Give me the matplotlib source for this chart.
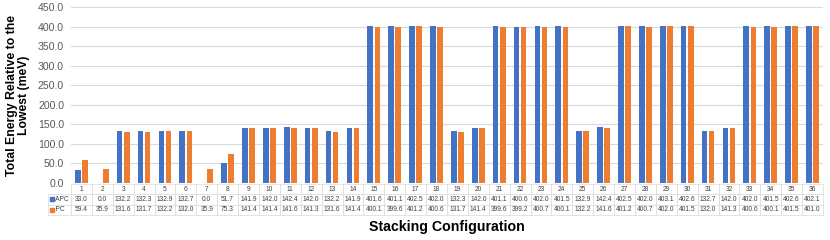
import matplotlib.pyplot as plt
import numpy as np

plt.rcParams['font.family'] = ['Liberation Sans', 'DejaVu Sans']

configs = [str(i) for i in range(1, 37)]
apc = [33.0, 0.0, 132.2, 132.3, 132.9, 132.7, 0.0, 51.7, 141.9, 142.0,
       142.4, 142.0, 132.2, 141.9, 401.6, 401.1, 402.5, 402.0, 132.3, 142.0,
       401.1, 400.6, 402.0, 401.5, 132.9, 142.4, 402.5, 402.0, 403.1, 402.6,
       132.7, 142.0, 402.0, 401.5, 402.6, 402.1]
pc = [59.4, 35.9, 131.6, 131.7, 132.2, 132.0, 35.9, 75.3, 141.4, 141.4,
      141.6, 141.3, 131.6, 141.4, 400.1, 399.6, 401.2, 400.6, 131.7, 141.4,
      399.6, 399.2, 400.7, 400.1, 132.2, 141.6, 401.2, 400.7, 402.0, 401.5,
      132.0, 141.3, 400.6, 400.1, 401.5, 401.0]
series = ["APC", "PC"]
colors = ["#4472C4", "#ED7D31"]

fig = plt.figure(figsize=(8.3, 2.4), dpi=100)
ax = fig.add_axes([0.0855, 0.2375, 0.906, 0.732])

x = np.arange(len(configs))
w = 0.27
ax.bar(x - 0.17, apc, w, color=colors[0], zorder=3)
ax.bar(x + 0.17, pc, w, color=colors[1], zorder=3)

ax.set_xlim(-0.5, len(configs) - 0.5)
ax.set_ylim(0, 450)
ax.set_yticks(np.arange(0, 451, 50))
ax.set_yticklabels([f"{v:.1f}" for v in np.arange(0, 451, 50)],
                   fontsize=7.6, color="#595959")
ax.yaxis.grid(True, color="#D9D9D9", lw=0.8, zorder=0)
ax.set_xticks([])
ax.tick_params(axis="y", length=0, pad=5)
for s in ["top", "right", "left", "bottom"]:
    ax.spines[s].set_visible(False)

ax.set_ylabel("Total Energy Relative to the\nLowest (meV)", fontsize=8.8,
              fontweight="bold", labelpad=6, linespacing=1.0)

# data table underneath
cell_text = [["    " + series[0]] + [f"{v:.1f}" for v in apc],
             ["    " + series[1]] + [f"{v:.1f}" for v in pc]]
col_labels = [""] + configs
tbl = ax.table(cellText=cell_text, colLabels=col_labels,
               bbox=[-0.0306, -0.181, 1.0306, 0.175], cellLoc="center")
tbl.auto_set_font_size(False)
tbl.set_fontsize(4.8)
ncol = len(col_labels)
lab_w = 0.0306 / 1.0306
dat_w = (1 - lab_w) / (ncol - 1)
for (r, c), cell in tbl.get_celld().items():
    cell.set_edgecolor("#D9D9D9")
    cell.set_linewidth(0.5)
    cell.set_width(lab_w if c == 0 else dat_w)
    cell.get_text().set_color("#404040")
    if c == 0:
        cell.get_text().set_ha("left")
        cell.PAD = 0.02
    if r == 0 and c == 0:
        cell.set_edgecolor("none")

for i, col in enumerate(colors):
    yrow = -0.181 + 0.175 * (2 - i) / 3 - 0.175 / 6
    ax.scatter([-0.0255], [yrow], marker="s", s=5, color=col,
               transform=ax.transAxes, clip_on=False, zorder=5)

fig.text(0.538, 0.054, "Stacking Configuration", ha="center", va="center",
         fontsize=10.2, fontweight="bold")

fig.savefig("out.png", dpi=100)
